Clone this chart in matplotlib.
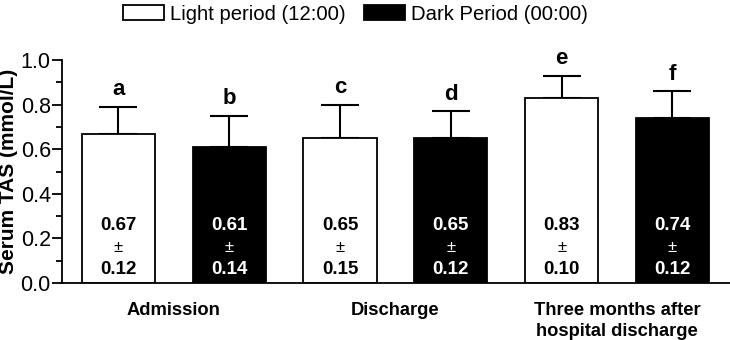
import numpy as np
import matplotlib.pyplot as plt
from matplotlib.ticker import MultipleLocator

groups = ["Admission", "Discharge", "Three months after\nhospital discharge"]
light_mean = [0.67, 0.65, 0.83]
light_sd = [0.12, 0.15, 0.10]
dark_mean = [0.61, 0.65, 0.74]
dark_sd = [0.14, 0.12, 0.12]
light_letters = ["a", "c", "e"]
dark_letters = ["b", "d", "f"]
series_names = ["Light period (12:00)", "Dark Period (00:00)"]

plt.rcParams["font.family"] = ["Liberation Sans", "DejaVu Sans"]

fig = plt.figure(figsize=(7.3, 3.4), dpi=100)
ax = fig.add_axes([0.0849, 0.1676, 0.9151, 0.6559])

n = len(groups)
light_x = np.arange(n) * 2.0
dark_x = light_x + 1.0
width = 0.66

series = [
    (light_x, light_mean, light_sd, light_letters, "white", "black"),
    (dark_x, dark_mean, dark_sd, dark_letters, "black", "white"),
]
handles = []
for xs, means, sds, letters, face, txt in series:
    ax.errorbar(xs, means, yerr=[np.zeros(n), sds], fmt="none",
                ecolor="black", elinewidth=1.5, capsize=13.5,
                capthick=1.5, zorder=1)
    h = ax.bar(xs, means, width=width, color=face, edgecolor="black",
               linewidth=1.3, zorder=2)
    handles.append(h)
    for x, m, s, lab in zip(xs, means, sds, letters):
        ax.text(x, m + s + 0.03, lab, ha="center", va="bottom",
                fontsize=16, fontweight="bold")
        ax.text(x, 0.26, f"{m:.2f}", ha="center", va="center",
                fontsize=13.5, fontweight="bold", color=txt, zorder=3)
        ax.text(x, 0.158, "\u00b1", ha="center", va="center",
                fontsize=12, color=txt, zorder=3)
        ax.text(x, 0.062, f"{s:.2f}", ha="center", va="center",
                fontsize=13.5, fontweight="bold", color=txt, zorder=3)

ax.set_xlim(-0.51, 5.52)
ax.set_ylim(0, 1.0)
ax.yaxis.set_major_locator(MultipleLocator(0.2))
ax.yaxis.set_minor_locator(MultipleLocator(0.1))
ax.yaxis.set_major_formatter(plt.FormatStrFormatter("%.1f"))
ax.tick_params(axis="y", which="major", length=7, width=1.3,
               labelsize=15.5, pad=1)
ax.tick_params(axis="y", which="minor", length=4, width=1.3)

ax.set_xticks((light_x + dark_x) / 2)
ax.set_xticklabels(groups, fontsize=13.2, fontweight="bold", linespacing=1.25)
ax.tick_params(axis="x", length=0, pad=14)

ax.spines["top"].set_visible(False)
ax.spines["right"].set_visible(False)
ax.spines["left"].set_linewidth(1.3)
ax.spines["bottom"].set_linewidth(1.3)

ax.set_ylabel("Serum TAS (mmol/L)", fontsize=15, fontweight="bold",
              labelpad=2)

fig.legend(handles, series_names, loc="upper center", ncol=2,
           bbox_to_anchor=(0.487, 1.04), frameon=False, fontsize=14.6,
           handlelength=2.0, handleheight=0.7, handletextpad=0.3,
           columnspacing=0.9)

fig.savefig("out.png", dpi=100)
plt.close(fig)
